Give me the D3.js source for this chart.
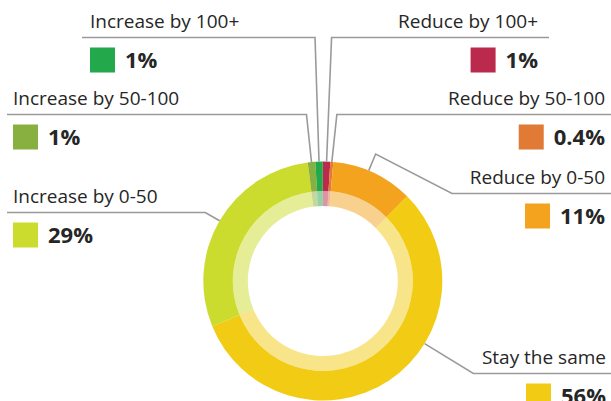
<!DOCTYPE html>
<html>
<head>
<meta charset="utf-8">
<script src="https://cdn.jsdelivr.net/npm/d3@7/dist/d3.min.js"></script>
<style>
  html, body { margin: 0; padding: 0; background: #fff; }
  svg { display: block; }
  .cat { font-family: "Open Sans", "Noto Sans", sans-serif; font-size: 19px; fill: #262626; }
  .val { font-family: "Open Sans", "Noto Sans", sans-serif; font-size: 22px; font-weight: 700; fill: #262626; }
  .leader { fill: none; stroke: #9a9a9a; stroke-width: 1.6; }
</style>
</head>
<body>
<svg id="chart" width="611" height="401"></svg>
<script>
// Share of respondents by expected change, clockwise from 12 o'clock
const categories = [
  "Reduce by 100+",
  "Reduce by 50-100",
  "Reduce by 0-50",
  "Stay the same",
  "Increase by 0-50",
  "Increase by 50-100",
  "Increase by 100+"
];
const values = [1, 0.4, 11, 56, 29, 1, 1];
const valueLabels = ["1%", "0.4%", "11%", "56%", "29%", "1%", "1%"];
const colors = ["#bb2a4c", "#e07a35", "#f4a31f", "#f2cb14", "#cbdc2f", "#88b040", "#23a84b"];

const W = 611, H = 401;
const cx = 322.8, cy = 281;
const rOuter = 119.5, rMid = 90, rInner = 75;

const svg = d3.select("#chart");

const pie = d3.pie().sort(null).value(d => d.value);
const arcs = pie(categories.map((c, i) => ({ cat: c, value: values[i], label: valueLabels[i], color: colors[i] })));

const outerArc = d3.arc().innerRadius(rMid).outerRadius(rOuter);
const innerArc = d3.arc().innerRadius(rInner).outerRadius(rMid);

const ring = svg.append("g").attr("transform", `translate(${cx},${cy})`);
ring.selectAll("path.outer").data(arcs).join("path")
  .attr("class", "outer")
  .attr("d", outerArc)
  .attr("fill", d => d.data.color);
ring.selectAll("path.inner").data(arcs).join("path")
  .attr("class", "inner")
  .attr("d", innerArc)
  .attr("fill", d => d.data.color)
  .attr("fill-opacity", 0.5);

// Label placement: side, edge x of the text block, baseline of the category name,
// where along the slice the leader attaches (0..1), and the leader route.
const layout = {
  "Reduce by 100+":     { side: "right", x: 538, y: 28,  at: 0.5,  ruleEnd: 549, elbow: d => [d[0] + 5, null] },
  "Reduce by 50-100":   { side: "right", x: 605, y: 105, at: 0.5,  ruleEnd: 611, elbow: d => [d[0] + 5, null] },
  "Reduce by 0-50":     { side: "right", x: 605, y: 184, at: 0.44, ruleEnd: 611, radial: 18, elbowX: 452 },
  "Stay the same":      { side: "right", x: 606, y: 364, at: 0.378, ruleEnd: 611, radial: 55 },
  "Increase by 0-50":   { side: "left",  x: 13,  y: 203, at: 0.5,  ruleEnd: 7,   radial: 21 },
  "Increase by 50-100": { side: "left",  x: 13,  y: 105, at: 0.5,  ruleEnd: 7,   elbow: d => [d[0] - 5, null] },
  "Increase by 100+":   { side: "left",  x: 90,  y: 28,  at: 0.5,  ruleEnd: 82,  elbow: d => [d[0] - 4, null] }
};

const pointAt = (angle, r) => [cx + r * Math.sin(angle), cy - r * Math.cos(angle)];

const labels = svg.append("g");

arcs.forEach(a => {
  const L = layout[a.data.cat];
  const ang = a.startAngle + (a.endAngle - a.startAngle) * L.at;
  const p0 = pointAt(ang, rOuter);
  const ruleY = L.y + 9.5;
  let pts;
  if (L.radial) {
    const p1 = pointAt(ang, rOuter + L.radial);
    if (L.elbowX !== undefined) {
      pts = [p0, p1, [L.elbowX, ruleY], [L.ruleEnd, ruleY]];
    } else {
      // continue along the radial direction until it meets the rule line
      const t = (ruleY - p0[1]) / (p1[1] - p0[1]);
      const px = p0[0] + (p1[0] - p0[0]) * t;
      pts = [p0, [px, ruleY], [L.ruleEnd, ruleY]];
    }
  } else {
    const e = L.elbow(p0);
    pts = [p0, [e[0], ruleY], [L.ruleEnd, ruleY]];
  }
  labels.append("path")
    .attr("class", "leader")
    .attr("d", d3.line()(pts));

  const anchor = L.side === "left" ? "start" : "end";
  labels.append("text")
    .attr("class", "cat")
    .attr("x", L.x)
    .attr("y", L.y)
    .attr("text-anchor", anchor)
    .text(a.data.cat);

  const swY = ruleY + 10;
  const sw = 25, gap = 10;
  const val = labels.append("text")
    .attr("class", "val")
    .attr("y", swY + 20)
    .text(a.data.label);
  if (L.side === "left") {
    labels.append("rect").attr("x", L.x).attr("y", swY).attr("width", sw).attr("height", sw).attr("fill", a.data.color);
    val.attr("x", L.x + sw + gap);
  } else {
    const w = val.node().getComputedTextLength();
    val.attr("x", L.x - w);
    labels.append("rect").attr("x", L.x - w - gap - sw).attr("y", swY).attr("width", sw).attr("height", sw).attr("fill", a.data.color);
  }
});
</script>
</body>
</html>
